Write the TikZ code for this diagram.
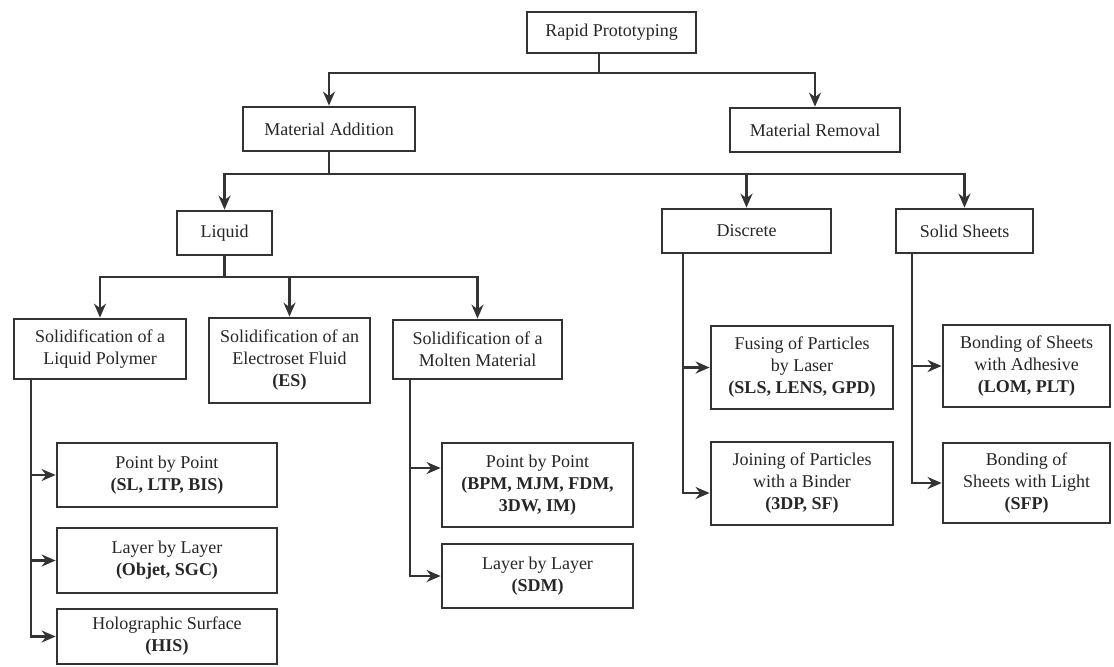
\documentclass[tikz,border=0pt]{standalone}
\usepackage{fontspec}
\setmainfont{Liberation Serif}
\usetikzlibrary{arrows.meta}

\tikzset{
  box/.style={draw=black!80, line width=1.4pt, align=center, inner sep=2pt,
    font=\fontsize{9}{11}\selectfont, text=black!85},
  link/.style={draw=black!80, line width=1.1pt},
  arr/.style={-{Stealth[length=7pt,width=6pt]}},
}

\begin{document}
\begin{tikzpicture}[x=0.5pt,y=-0.5pt]
\useasboundingbox (0,0) rectangle (1114,666);

% top levels
\node[box, minimum width=84.5pt, minimum height=20.5pt] (rp) at (611.5,32.5) {Rapid Prototyping};
\node[box, minimum width=86pt, minimum height=22pt] (ma) at (329,129) {Material Addition};
\node[box, minimum width=85pt, minimum height=22pt] (mr) at (815,130) {Material Removal};

\node[box, minimum width=47.5pt, minimum height=22pt] (liq) at (224.5,233) {Liquid};
\node[box, minimum width=84.5pt, minimum height=22pt] (disc) at (746.5,231) {Discrete};
\node[box, minimum width=68.5pt, minimum height=22pt] (solid) at (964.5,231) {Solid Sheets};

% liquid branch
\node[box, minimum width=86pt, minimum height=30pt] (poly) at (100,349) {Solidification of a\\Liquid Polymer};
\node[box, minimum width=80.5pt, minimum height=42.5pt] (elec) at (289.5,360.5) {Solidification of an\\Electroset Fluid\\\textbf{(ES)}};
\node[box, minimum width=84.5pt, minimum height=29.5pt] (molt) at (477.5,349.5) {Solidification of a\\Molten Material};

\node[box, minimum width=110pt, minimum height=32pt] (sl) at (167,475) {Point by Point\\\textbf{(SL, LTP, BIS)}};
\node[box, minimum width=110pt, minimum height=32.5pt] (obj) at (167,560.5) {Layer by Layer\\\textbf{(Objet, SGC)}};
\node[box, minimum width=110pt, minimum height=27.5pt] (his) at (167,636.5) {Holographic Surface\\\textbf{(HIS)}};

\node[box, minimum width=95.5pt, minimum height=42pt] (bpm) at (537.5,485) {Point by Point\\\textbf{(BPM, MJM, FDM,}\\\textbf{3DW, IM)}};
\node[box, minimum width=95.5pt, minimum height=32pt] (sdm) at (537.5,576) {Layer by Layer\\\textbf{(SDM)}};

% discrete and sheets
\node[box, minimum width=91pt, minimum height=41.5pt] (fus) at (802,367.5) {Fusing of Particles\\by Laser\\\textbf{(SLS, LENS, GPD)}};
\node[box, minimum width=91pt, minimum height=41.5pt] (join) at (802,483.5) {Joining of Particles\\with a Binder\\\textbf{(3DP, SF)}};
\node[box, minimum width=83.5pt, minimum height=41pt] (adh) at (1026.5,366) {Bonding of Sheets\\with Adhesive\\\textbf{(LOM, PLT)}};
\node[box, minimum width=83.5pt, minimum height=40pt] (light) at (1026.5,483) {Bonding of\\Sheets with Light\\\textbf{(SFP)}};

\coordinate (j1) at (599,73);
\coordinate (j2) at (327,174);
\coordinate (j3) at (224.5,277);
\coordinate (t1) at (31,0);
\coordinate (t2) at (410,0);
\coordinate (t3) at (683,0);
\coordinate (t4) at (912,0);

\draw[link] (rp.south -| j1) -- (j1);
\draw[link,arr] (j1) -| (ma);
\draw[link,arr] (j1) -| (mr);

\draw[link] (ma.south) -- (ma.south |- j2);
\draw[link,arr] (ma.south |- j2) -| (liq);
\draw[link,arr] (ma.south |- j2) -| (disc);
\draw[link,arr] (ma.south |- j2) -| (solid);

\draw[link] (liq.south) -- (j3);
\draw[link,arr] (j3) -| (poly);
\draw[link,arr] (j3) -| (elec);
\draw[link,arr] (j3) -| (molt);

\draw[link,arr] (poly.south -| t1) |- (sl);
\draw[link,arr] (poly.south -| t1) |- (obj);
\draw[link,arr] (poly.south -| t1) |- (his);

\draw[link,arr] (molt.south -| t2) |- ([yshift=8.5pt]bpm.west);
\draw[link,arr] (molt.south -| t2) |- (sdm);

\draw[link,arr] (disc.south -| t3) |- (fus);
\draw[link,arr] (disc.south -| t3) |- ([yshift=-4.75pt]join.west);

\draw[link,arr] (solid.south -| t4) |- (adh);
\draw[link,arr] (solid.south -| t4) |- (light);

\end{tikzpicture}
\end{document}
